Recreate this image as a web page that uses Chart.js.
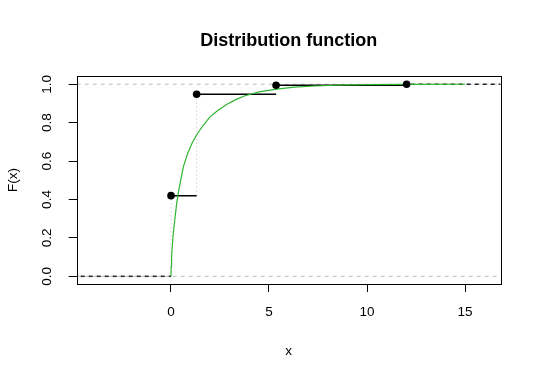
<!DOCTYPE html>
<html>
<head>
<meta charset="UTF-8">
<title>Distribution function</title>
<style>
  body{margin:0;background:#fff;}
</style>
</head>
<body>
<canvas id="ecdf" width="540" height="380"></canvas>
<script src="https://cdn.jsdelivr.net/npm/chart.js"></script>
<script>
// axis limits and ticks
const xLimits = [-4.81, 16.82]
const yLimits = [-0.04, 1.043]
const xTicks = [0, 5, 10, 15]
const yTicks = [0, 0.2, 0.4, 0.6, 0.8, 1.0]

// jumps of the step function
const jumpX = [0, 1.31, 5.36, 12.02]
const jumpY = [0.42, 0.948, 0.995, 1.0]

// green curve
const curveX = [0, 0.01, 0.03, 0.06, 0.12, 0.2, 0.29, 0.4, 0.63, 0.85, 1.06, 1.31, 1.6, 1.99, 2.4, 2.84, 3.3, 3.78, 4.5, 5.39, 6.3, 7.3, 8.5, 10, 12, 15]
const curveY = [0, 0.05, 0.10, 0.15, 0.225, 0.30, 0.38, 0.45, 0.57, 0.64, 0.69, 0.737, 0.78, 0.83, 0.865, 0.895, 0.92, 0.94, 0.96, 0.975, 0.985, 0.991, 0.995, 0.998, 0.9995, 1.0]

const FONT = "'Liberation Sans', Arial, sans-serif"
const GRAY = '#bebebe'

// horizontal pieces of the step function
const steps = []
for (let i = 0; i < jumpX.length - 1; i++) {
  steps.push({x: jumpX[i], y: jumpY[i]}, {x: jumpX[i + 1], y: jumpY[i]}, {x: jumpX[i + 1], y: null})
}
const leftTail = [{x: xLimits[0], y: 0}, {x: jumpX[0], y: 0}]
const last = jumpX.length - 1
const rightTail = [{x: jumpX[last], y: jumpY[last]}, {x: xLimits[1], y: jumpY[last]}]

// dotted verticals
const verts = []
jumpX.forEach((v, i) => {
  const from = i == 0 ? 0 : jumpY[i - 1]
  verts.push({x: v, y: from}, {x: v, y: jumpY[i]}, {x: v, y: null})
})

const curve = curveX.map((v, i) => ({x: v, y: curveY[i]}))
const jumps = jumpX.map((v, i) => ({x: v, y: jumpY[i]}))

const line = (data, color, width, dash, order, offset) => ({
  type: 'line', data, borderColor: color, borderWidth: width, borderDash: dash || [],
  borderDashOffset: offset || 0, pointRadius: 0, fill: false, spanGaps: false, order
})

// box + title drawn from the chart area
const frame = {
  id: 'frame',
  afterDraw(chart) {
    const {ctx, chartArea: a} = chart
    ctx.save()
    ctx.strokeStyle = '#000'
    ctx.lineWidth = 1
    ctx.strokeRect(Math.round(a.left) + 0.5, Math.round(a.top) + 0.5, Math.round(a.right - a.left), Math.round(a.bottom - a.top))
    ctx.fillStyle = '#000'
    ctx.font = 'bold 18px ' + FONT
    ctx.textAlign = 'center'
    ctx.textBaseline = 'alphabetic'
    ctx.fillText('Distribution function', (a.left + a.right) / 2, 46)
    ctx.restore()
  }
}

new Chart(document.getElementById('ecdf'), {
  type: 'scatter',
  data: {
    datasets: [
      {type: 'scatter', data: jumps, pointRadius: 3.8, pointBackgroundColor: '#000', pointBorderWidth: 0, order: 1},
      line(curve, '#2fb52f', 1.2, null, 2),
      line(steps, '#000', 1.5, null, 3),
      line(leftTail, '#222', 1.5, [4, 4], 3, 4),
      line(rightTail, '#222', 1.5, [4, 4], 3, 4),
      line(verts, GRAY, 1, [1, 3], 4),
      line([{x: xLimits[0], y: 0}, {x: xLimits[1], y: 0}], GRAY, 1, [4, 4], 5),
      line([{x: xLimits[0], y: 1}, {x: xLimits[1], y: 1}], GRAY, 1, [4, 4], 5)
    ]
  },
  options: {
    responsive: false,
    animation: false,
    layout: {padding: {top: 76, right: 39.3, left: 0, bottom: 0}},
    plugins: {legend: {display: false}, tooltip: {enabled: false}},
    scales: {
      x: {
        type: 'linear', min: xLimits[0], max: xLimits[1],
        afterBuildTicks: s => { s.ticks = xTicks.map(v => ({value: v})) },
        afterFit: s => { s.height = 96 },
        ticks: {color: '#000', font: {family: FONT, size: 13.5}, padding: 12, maxRotation: 0, callback: v => String(v)},
        grid: {drawOnChartArea: false, tickLength: 8, tickColor: '#000'},
        border: {display: false},
        title: {display: true, text: 'x', color: '#000', font: {family: FONT, size: 13.5}, padding: {top: 0, bottom: 21}}
      },
      y: {
        type: 'linear', min: yLimits[0], max: yLimits[1],
        afterBuildTicks: s => { s.ticks = yTicks.map(v => ({value: v})) },
        afterFit: s => { s.width = 76.7 },
        ticks: {color: '#000', font: {family: FONT, size: 13.5}, padding: 12, minRotation: 90, maxRotation: 90, crossAlign: 'center', callback: v => v.toFixed(1)},
        grid: {drawOnChartArea: false, tickLength: 8, tickColor: '#000'},
        border: {display: false},
        title: {display: true, text: 'F(x)', color: '#000', font: {family: FONT, size: 13.5}, padding: {top: 5, bottom: 0}}
      }
    }
  },
  plugins: [frame]
})
</script>
</body>
</html>
